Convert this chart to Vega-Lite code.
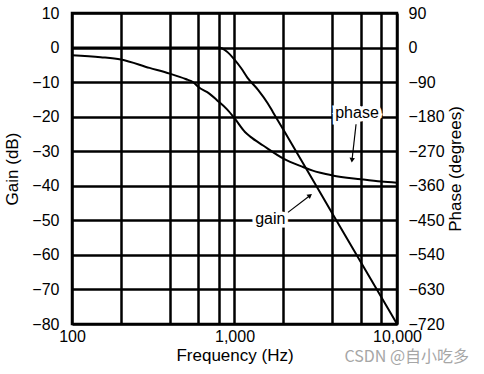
{
  "$schema": "https://vega.github.io/schema/vega-lite/v6.json",
  "width": 325,
  "height": 311,
  "autosize": {"type": "none"},
  "padding": {"left": 72, "top": 13, "right": 87, "bottom": 50},
  "background": "white",
  "config": {
    "font": "Liberation Sans",
    "view": {"stroke": "black", "strokeWidth": 2.5},
    "axis": {"labelFont": "Liberation Sans", "titleFont": "Liberation Sans", "labelFontSize": 16, "titleFontSize": 17, "titleFontWeight": "normal", "labelColor": "black", "titleColor": "black", "ticks": false, "domain": false, "labelFlush": false, "labelOverlap": false}
  },
  "title": {"text": "CSDN @自小吃多", "orient": "bottom", "anchor": "end", "fontSize": 16, "fontWeight": "normal", "color": "#a6a6a6", "font": "Noto Sans CJK SC", "offset": -14, "dx": 6},
  "datasets": {
    "gain": [
      {"freq": 100, "value": 0}, {"freq": 800, "value": 0}, {"freq": 900, "value": -1.2},
      {"freq": 1000, "value": -3.5}, {"freq": 1100, "value": -6}, {"freq": 1200, "value": -8.7},
      {"freq": 1400, "value": -12.3}, {"freq": 1600, "value": -16.1}, {"freq": 1725, "value": -18.7},
      {"freq": 2000, "value": -23.8}, {"freq": 4000, "value": -48}, {"freq": 10000, "value": -80}
    ],
    "phase": [
      {"freq": 100, "value": -20}, {"freq": 150, "value": -25}, {"freq": 200, "value": -31},
      {"freq": 300, "value": -53}, {"freq": 400, "value": -68}, {"freq": 500, "value": -82},
      {"freq": 560, "value": -91}, {"freq": 600, "value": -103}, {"freq": 700, "value": -120},
      {"freq": 780, "value": -137}, {"freq": 900, "value": -161}, {"freq": 1000, "value": -184},
      {"freq": 1160, "value": -220}, {"freq": 1250, "value": -232}, {"freq": 1500, "value": -255},
      {"freq": 2000, "value": -289}, {"freq": 2640, "value": -311}, {"freq": 3000, "value": -320},
      {"freq": 4000, "value": -333}, {"freq": 6000, "value": -343}, {"freq": 8000, "value": -349},
      {"freq": 10000, "value": -352}
    ],
    "labels": [
      {"label": "phase", "freq": 5675, "value": -19},
      {"label": "gain", "freq": 1660, "value": -49.6}
    ],
    "arrows": [
      {"name": "phase", "freq": 5598, "value": -22.2, "freq2": 5284, "value2": -32.6},
      {"name": "gain", "freq": 2133, "value": -47.7, "freq2": 2917, "value2": -42.8}
    ]
  },
  "encoding": {
    "x": {
      "field": "freq", "type": "quantitative",
      "scale": {"type": "log", "domain": [100, 10000], "nice": false},
      "axis": {
        "values": [100, 200, 400, 600, 800, 1000, 2000, 4000, 6000, 8000, 10000],
        "labelExpr": "datum.value == 100 || datum.value == 1000 || datum.value == 10000 ? format(datum.value, ',') : ''",
        "grid": true, "gridColor": "black", "gridWidth": 2.5, "gridOpacity": 1,
        "labelPadding": 4, "titlePadding": 3, "title": "Frequency (Hz)"
      }
    }
  },
  "layer": [
    {
      "data": {"name": "phase"},
      "mark": {"type": "line", "color": "black", "strokeWidth": 2, "interpolate": "monotone"},
      "encoding": {
        "y": {
          "field": "value", "type": "quantitative",
          "scale": {"domain": [-720, 90], "nice": false},
          "axis": {"orient": "right", "values": [-720, -630, -540, -450, -360, -270, -180, -90, 0, 90], "grid": false, "labelPadding": 11, "titlePadding": 20, "titleAngle": 270, "title": "Phase (degrees)"}
        }
      }
    },
    {
      "encoding": {
        "y": {
          "field": "value", "type": "quantitative",
          "scale": {"domain": [-80, 10], "nice": false},
          "axis": {"orient": "left", "values": [-80, -70, -60, -50, -40, -30, -20, -10, 0, 10], "grid": true, "gridColor": "black", "gridWidth": 2.5, "gridOpacity": 1, "labelPadding": 13, "titlePadding": 10, "title": "Gain (dB)"}
        }
      },
      "layer": [
        {
          "data": {"name": "labels"},
          "mark": {"type": "text", "fontSize": 16, "stroke": "white", "strokeWidth": 7, "color": "white"},
          "encoding": {"text": {"field": "label"}}
        },
        {
          "data": {"name": "gain"},
          "mark": {"type": "line", "color": "black", "strokeWidth": 2, "interpolate": "monotone"}
        },
        {
          "data": {"name": "arrows"},
          "mark": {"type": "rule", "color": "black", "strokeWidth": 1.2},
          "encoding": {"x2": {"field": "freq2"}, "y2": {"field": "value2"}}
        },
        {
          "data": {"name": "arrows"},
          "transform": [{"filter": "datum.name == 'phase'"}],
          "mark": {"type": "point", "shape": "triangle-up", "filled": true, "color": "black", "size": 30, "angle": 186, "opacity": 1},
          "encoding": {"x": {"field": "freq2", "type": "quantitative"}, "y": {"field": "value2", "type": "quantitative"}}
        },
        {
          "data": {"name": "arrows"},
          "transform": [{"filter": "datum.name == 'gain'"}],
          "mark": {"type": "point", "shape": "triangle-up", "filled": true, "color": "black", "size": 30, "angle": 52, "opacity": 1},
          "encoding": {"x": {"field": "freq2", "type": "quantitative"}, "y": {"field": "value2", "type": "quantitative"}}
        },
        {
          "data": {"name": "labels"},
          "mark": {"type": "text", "fontSize": 16, "color": "black"},
          "encoding": {"text": {"field": "label"}}
        }
      ]
    }
  ],
  "resolve": {"scale": {"y": "independent"}}
}
